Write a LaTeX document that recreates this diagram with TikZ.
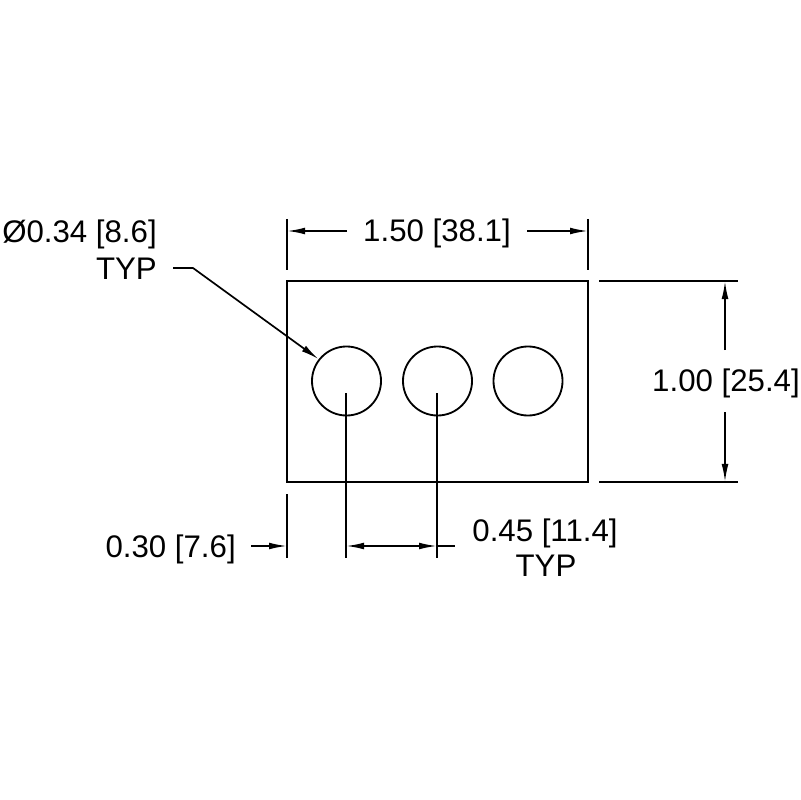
\documentclass[tikz,border=0pt]{standalone}
\usepackage{fontspec}
\setmainfont{Liberation Sans}
\usetikzlibrary{arrows.meta, positioning}
\tikzset{
    outline/.style={draw=black, line width=1.3pt, inner sep=0pt},
    dimline/.style={black, line width=1.2pt},
    dimarrow/.style={dimline, -{Latex[length=0.45cm, width=0.17cm]}},
    dimboth/.style={dimline, {Latex[length=0.45cm, width=0.17cm]}-{Latex[length=0.45cm, width=0.17cm]}},
    dimtext/.style={font=\fontsize{22.2}{26}\selectfont, inner sep=0pt, text=black}
}
\begin{document}
\begin{tikzpicture}[x=0.025cm, y=-0.025cm]
\useasboundingbox (0,0) rectangle (800,800);

% Plate and holes
\node[outline, rectangle, minimum width=7.525cm, minimum height=5.025cm] (plate) at (437.5,381.5) {};
\foreach \name/\x in {holeA/346.5, holeB/437.5, holeC/528} {
    \node[outline, circle, minimum size=1.725cm] (\name) at (\x,381) {};
}

% Labels
\node[dimtext] (widthLabel) at (437,233) {1.50 [38.1]};
\node[dimtext] (heightLabel) at (726,383) {1.00 [25.4]};
\node[dimtext, anchor=east] (diaLabel) at (157,234) {Ø0.34 [8.6]};
\node[dimtext, anchor=east] (diaTyp) at (157,269) {TYP};
\node[dimtext, anchor=east] (edgeLabel) at (236,549) {0.30 [7.6]};
\node[dimtext] (pitchLabel) at (545,533) {0.45 [11.4]};
\node[dimtext] (pitchTyp) at (546,566) {TYP};

% Extension lines
\coordinate (topLa) at (287,219);
\coordinate (topLb) at (287,270);
\coordinate (topRa) at (588,219);
\coordinate (topRb) at (588,270);
\coordinate (rightTa) at (599,281);
\coordinate (rightTb) at (738,281);
\coordinate (rightBa) at (599,482);
\coordinate (rightBb) at (738,482);
\coordinate (botLa) at (287,494);
\coordinate (botLb) at (287,558);
\coordinate (botAa) at (346,393);
\coordinate (botAb) at (346,558);
\coordinate (botBa) at (437,393);
\coordinate (botBb) at (437,558);
\foreach \a/\b in {topLa/topLb, topRa/topRb, rightTa/rightTb, rightBa/rightBb, botLa/botLb, botAa/botAb, botBa/botBb} {
    \draw[dimline] (\a) -- (\b);
}

% Overall width
\coordinate (widthL) at (287,231);
\coordinate (widthR) at (588,231);
\coordinate (widthLs) at (347,231);
\coordinate (widthRs) at (527,231);
\draw[dimarrow] (widthLs) -- (widthL);
\draw[dimarrow] (widthRs) -- (widthR);

% Overall height
\coordinate (heightT) at (725,281);
\coordinate (heightB) at (725,482);
\coordinate (heightTs) at (725,350);
\coordinate (heightBs) at (725,412);
\draw[dimarrow] (heightTs) -- (heightT);
\draw[dimarrow] (heightBs) -- (heightB);

% Hole leader
\coordinate (leaderS) at (173,268);
\coordinate (leaderK) at (193,268);
\draw[dimarrow] (leaderS) -- (leaderK) -- (holeA.142);

% Edge distance and pitch
\coordinate (edgeS) at (251,546);
\coordinate (edgeE) at (287,546);
\coordinate (pitchA) at (346,546);
\coordinate (pitchB) at (437,546);
\coordinate (pitchS) at (455,546);
\draw[dimarrow] (edgeS) -- (edgeE);
\draw[dimboth] (pitchA) -- (pitchB);
\draw[dimline] (pitchB) -- (pitchS);
\end{tikzpicture}
\end{document}
